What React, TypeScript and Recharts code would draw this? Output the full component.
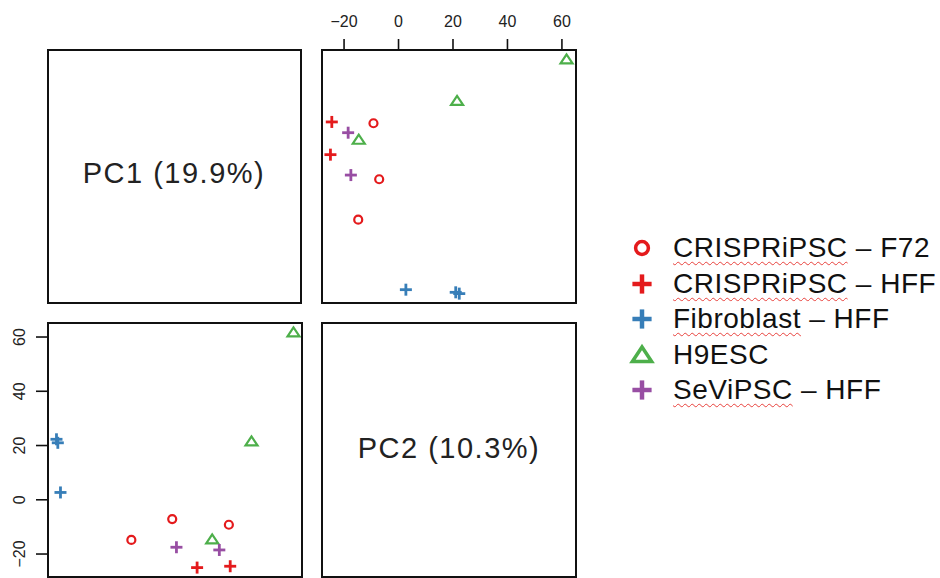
import React from "react";
import { ScatterChart, Scatter, XAxis, YAxis } from "recharts";

const FONT = '"Liberation Sans", Arial, Helvetica, sans-serif';

// groups, as in the legend
const groupNames = [
  "CRISPRiPSC – F72",
  "CRISPRiPSC – HFF",
  "Fibroblast – HFF",
  "H9ESC",
  "SeViPSC – HFF",
];
const groupColors = ["#e41a1c", "#e41a1c", "#377eb8", "#4daf4a", "#984ea3"];
const groupShapes = ["circle", "plus", "plus", "triangle", "plus"];

// PC scores per group
const crisprF72PC1 = [-1.7, 23.8, -20.1];
const crisprF72PC2 = [-7.1, -9.2, -14.8];
const crisprHffPC1 = [24.4, 9.5];
const crisprHffPC2 = [-24.5, -25.0];
const fibroblastPC1 = [-53.8, -53.2, -52.0];
const fibroblastPC2 = [22.3, 21.0, 2.7];
const h9escPC1 = [52.9, 34.0, 16.3];
const h9escPC2 = [61.7, 21.5, -14.6];
const sevipscPC1 = [0.2, 19.5];
const sevipscPC2 = [-17.5, -18.5];

const pc2Ticks = [-20, 0, 20, 40, 60];

const pc1Lists = [crisprF72PC1, crisprHffPC1, fibroblastPC1, h9escPC1, sevipscPC1];
const pc2Lists = [crisprF72PC2, crisprHffPC2, fibroblastPC2, h9escPC2, sevipscPC2];

const groups = groupNames.map((name, g) => ({
  name,
  color: groupColors[g],
  shape: groupShapes[g],
  data: pc1Lists[g].map((pc1, i) => ({ pc1, pc2: pc2Lists[g][i] })),
}));

// R-style range with 4% padding
const padRange = (vals: number[]): [number, number] => {
  const lo = Math.min(...vals);
  const hi = Math.max(...vals);
  const ext = (hi - lo) * 0.04;
  return [lo - ext, hi + ext];
};
const pc1Domain = padRange(pc1Lists.flat());
const pc2Domain = padRange(pc2Lists.flat());

const fmt = (v: number) => (v < 0 ? "\u2212" + Math.abs(v) : String(v));

const Marker = ({ cx, cy, color, shape, big }: any) => {
  const s = big ? 1.6 : 1;
  if (shape === "circle") {
    return <circle cx={cx} cy={cy} r={4 * s} fill="none" stroke={color} strokeWidth={2.2 * s} />;
  }
  if (shape === "triangle") {
    const pts = `${cx},${cy - 5 * s} ${cx - 6 * s},${cy + 4 * s} ${cx + 6 * s},${cy + 4 * s}`;
    return <polygon points={pts} fill="none" stroke={color} strokeWidth={2.2 * s} />;
  }
  const a = 6 * s;
  return (
    <g stroke={color} strokeWidth={2.8 * s}>
      <line x1={cx - a} y1={cy} x2={cx + a} y2={cy} />
      <line x1={cx} y1={cy - a} x2={cx} y2={cy + a} />
    </g>
  );
};

const VerticalTick = ({ x, y, payload }: any) => (
  <g transform={`translate(${x},${y}) rotate(-90)`}>
    <text textAnchor="middle" fontSize={16} fill="#222" fontFamily={FONT}>
      {fmt(payload.value)}
    </text>
  </g>
);

const frame = (left: number, top: number, w: number, h: number): React.CSSProperties => ({
  position: "absolute",
  left,
  top,
  width: w,
  height: h,
  border: "2px solid #111",
  boxSizing: "border-box",
});

const diagLabel = (left: number, top: number): React.CSSProperties => ({
  position: "absolute",
  left,
  top,
  width: 256,
  textAlign: "center",
  fontSize: 29,
  lineHeight: "29px",
  letterSpacing: "1.5px",
  color: "#222",
  whiteSpace: "pre",
});

const squiggle: React.CSSProperties = {
  textDecoration: "underline wavy #e8413c",
  textDecorationThickness: "1px",
  textUnderlineOffset: "4px",
};

const legendWords = [
  ["CRISPRiPSC", " – F72"],
  ["CRISPRiPSC", " – HFF"],
  ["Fibroblast", " – HFF"],
  ["", "H9ESC"],
  ["SeViPSC", " – HFF"],
];

export default function App() {
  return (
    <div style={{ position: "absolute", left: 0, top: 0, width: 940, height: 578, background: "#fff", fontFamily: FONT, overflow: "hidden" }}>
      {/* diagonal: PC1 label */}
      <div style={frame(47, 49, 255, 255)} />
      <div style={diagLabel(46, 159)}>PC1 (19.9%)</div>

      {/* top-right: x = PC2, y = PC1 */}
      <div style={{ position: "absolute", left: 300, top: 0 }}>
        <ScatterChart width={290} height={320} margin={{ top: 20, right: 14, bottom: 17, left: 21 }}>
          <XAxis
            xAxisId={0}
            type="number"
            dataKey="pc2"
            orientation="top"
            domain={pc2Domain}
            allowDataOverflow
            ticks={pc2Ticks}
            tickFormatter={fmt}
            height={30}
            axisLine={false}
            tickSize={11}
            tickMargin={12}
            tickLine={{ stroke: "#111", strokeWidth: 1.6 }}
            tick={{ fontSize: 16, fill: "#222", fontFamily: FONT }}
          />
          <YAxis yAxisId={0} type="number" dataKey="pc1" domain={pc1Domain} allowDataOverflow hide />
          {groups.map((g) => (
            <Scatter
              key={g.name}
              name={g.name}
              data={g.data}
              isAnimationActive={false}
              shape={(p: any) => <Marker cx={p.cx} cy={p.cy} color={g.color} shape={g.shape} />}
            />
          ))}
        </ScatterChart>
      </div>
      <div style={frame(321, 49, 256, 255)} />

      {/* bottom-left: x = PC1, y = PC2 */}
      <div style={{ position: "absolute", left: 0, top: 300 }}>
        <ScatterChart width={320} height={278} margin={{ top: 23, right: 17, bottom: 1, left: 17 }}>
          <XAxis xAxisId={0} type="number" dataKey="pc1" domain={pc1Domain} allowDataOverflow hide />
          <YAxis
            yAxisId={0}
            type="number"
            dataKey="pc2"
            domain={pc2Domain}
            allowDataOverflow
            ticks={pc2Ticks}
            width={30}
            axisLine={false}
            tickSize={11}
            tickMargin={11}
            tickLine={{ stroke: "#111", strokeWidth: 1.6 }}
            tick={<VerticalTick />}
          />
          {groups.map((g) => (
            <Scatter
              key={g.name}
              name={g.name}
              data={g.data}
              isAnimationActive={false}
              shape={(p: any) => <Marker cx={p.cx} cy={p.cy} color={g.color} shape={g.shape} />}
            />
          ))}
        </ScatterChart>
      </div>
      <div style={frame(47, 322, 256, 256)} />

      {/* diagonal: PC2 label */}
      <div style={frame(321, 322, 256, 256)} />
      <div style={diagLabel(321, 434)}>PC2 (10.3%)</div>

      {/* legend */}
      <div style={{ position: "absolute", left: 628, top: 230, fontSize: 28, letterSpacing: "0.5px", color: "#111", lineHeight: "35.5px" }}>
        {groups.map((g, i) => (
          <div key={g.name} style={{ display: "flex", alignItems: "center", height: 35.5 }}>
            <svg width={45} height={35} style={{ flex: "none" }}>
              <Marker cx={14} cy={18} color={g.color} shape={g.shape} big />
            </svg>
            <span style={{ whiteSpace: "pre" }}>
              {legendWords[i][0] ? <span style={squiggle}>{legendWords[i][0]}</span> : null}
              {legendWords[i][1]}
            </span>
          </div>
        ))}
      </div>
    </div>
  );
}
